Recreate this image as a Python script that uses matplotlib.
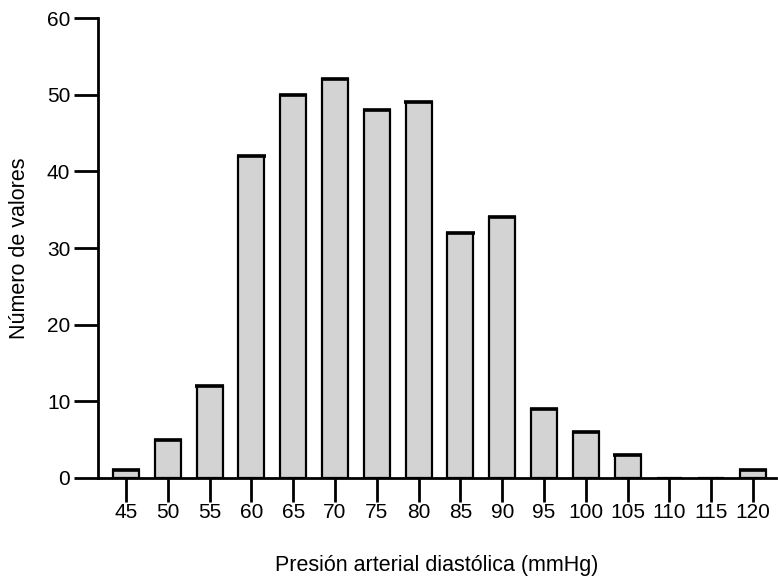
import matplotlib.pyplot as plt
import numpy as np

plt.rcParams['font.family'] = ['Liberation Sans', 'DejaVu Sans']

bins = [45, 50, 55, 60, 65, 70, 75, 80, 85, 90, 95, 100, 105, 110, 115, 120]
counts = [1, 5, 12, 42, 50, 52, 48, 49, 32, 34, 9, 6, 3, 0, 0, 1]
y_ticks = [0, 10, 20, 30, 40, 50, 60]

bins = np.array(bins)
counts = np.array(counts)

fig = plt.figure(figsize=(7.78, 5.77), dpi=100)
ax = fig.add_axes([0.126, 0.1716, 0.871, 0.797])

width = 3.1
ax.bar(bins, counts, width=width, color="#d3d3d3", edgecolor="black",
       linewidth=1.6, zorder=2)
nz = counts > 0
ax.hlines(counts[nz], bins[nz] - width / 2 - 0.15, bins[nz] + width / 2 + 0.15,
          colors="black", linewidth=2.6, zorder=3)

ax.set_xlim(41.66, 122.7)
ax.set_ylim(0, 60)
ax.set_xticks(bins)
ax.set_yticks(y_ticks)

for side in ["top", "right"]:
    ax.spines[side].set_visible(False)
for side in ["left", "bottom"]:
    ax.spines[side].set_linewidth(2)
ax.tick_params(axis="both", width=2, length=17, labelsize=15, pad=3)
ax.tick_params(axis="x", pad=1)

ax.set_xlabel("Presión arterial diastólica (mmHg)", fontsize=15.5, labelpad=24)
ax.set_ylabel("Número de valores", fontsize=15.5, labelpad=12)

fig.savefig("out.png", dpi=100)
plt.close(fig)
